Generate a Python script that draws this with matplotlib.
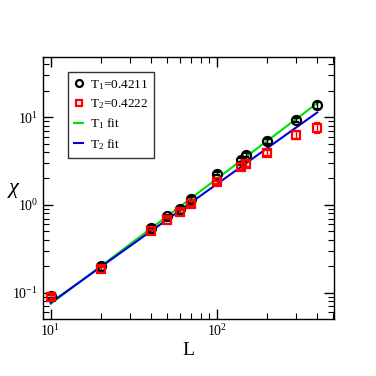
import numpy as np
import matplotlib
matplotlib.use('Agg')
from matplotlib import pyplot as plt
from matplotlib.lines import Line2D
from matplotlib.ticker import LogLocator, LogFormatterMathtext, NullFormatter

plt.rcParams['font.family'] = ['Liberation Serif', 'DejaVu Serif']
plt.rcParams['mathtext.fontset'] = 'custom'
plt.rcParams['mathtext.rm'] = 'Liberation Serif'
plt.rcParams['mathtext.it'] = 'Liberation Serif:italic'

# data
L = [10, 20, 40, 50, 60, 70, 100, 140, 150, 200, 300, 400]
chi_T1 = [0.092, 0.204, 0.55, 0.74, 0.91, 1.18, 2.27, 3.27, 3.73, 5.3, 9.3, 13.7]
err_T1 = [0.004, 0.006, 0.02, 0.02, 0.03, 0.04, 0.08, 0.15, 0.2, 0.3, 0.5, 1.2]
chi_T2 = [0.090, 0.187, 0.50, 0.68, 0.83, 1.03, 1.81, 2.67, 2.95, 3.9, 6.3, 7.6]
err_T2 = [0.005, 0.008, 0.02, 0.03, 0.04, 0.05, 0.08, 0.2, 0.25, 0.3, 0.6, 1.0]

fit_L = [10, 400]
fit_T1 = [0.0745, 14.4]
fit_T2 = [0.0769, 11.3]

labels = ['T$_1$=0.4211', 'T$_2$=0.4222', 'T$_1$ fit', 'T$_2$ fit']

fig = plt.figure(figsize=(3.76, 3.76), dpi=100)
ax = fig.add_axes([0.1144, 0.1516, 0.774, 0.6968])

ax.plot(fit_L, fit_T1, color='#00e000', lw=1.5, zorder=2)
ax.plot(fit_L, fit_T2, color='#0000e0', lw=1.5, zorder=2)
ax.errorbar(L, chi_T1, yerr=err_T1, fmt='o', ms=6.5, mfc='none', mec='black',
            mew=1.6, ecolor='black', elinewidth=1, capsize=2.5, zorder=3)
ax.errorbar(L, chi_T2, yerr=err_T2, fmt='s', ms=6, mfc='none', mec='red',
            mew=1.6, ecolor='red', elinewidth=1, capsize=2.5, zorder=3)

ax.set_xscale('log')
ax.set_yscale('log')
ax.set_xlim(9.0, 505)
ax.set_ylim(0.0502, 48.4)

for axis in (ax.xaxis, ax.yaxis):
    axis.set_major_locator(LogLocator(base=10))
    axis.set_major_formatter(LogFormatterMathtext())
    axis.set_minor_locator(LogLocator(base=10, subs=np.arange(2, 10)))
    axis.set_minor_formatter(NullFormatter())

ax.tick_params(which='both', direction='in', top=True, right=True, labelsize=10)
ax.tick_params(which='major', length=7, width=1)
ax.tick_params(which='minor', length=4, width=0.8)
ax.tick_params(axis='x', pad=3)
for sp in ax.spines.values():
    sp.set_linewidth(1)

ax.set_xlabel('L', fontsize=14, labelpad=2)
ax.set_ylabel(r'$\chi$', fontsize=16, rotation=0, va='center', ha='center')
ax.yaxis.set_label_coords(-0.10, 0.49)

handles = [
    Line2D([], [], ls='none', marker='o', ms=5, mfc='none', mec='black', mew=1.6),
    Line2D([], [], ls='none', marker='s', ms=5, mfc='none', mec='red', mew=1.6),
    Line2D([], [], color='#00e000', lw=1.5),
    Line2D([], [], color='#0000e0', lw=1.5),
]
leg = ax.legend(handles, labels,
                loc='upper left', bbox_to_anchor=(0.086, 0.943), borderaxespad=0,
                fontsize=9.5, handlelength=0.7, handletextpad=0.5, labelspacing=0.42,
                borderpad=0.45, fancybox=False, framealpha=1, edgecolor='#333333')
leg.get_frame().set_linewidth(1)

fig.savefig('out.png', dpi=100)
